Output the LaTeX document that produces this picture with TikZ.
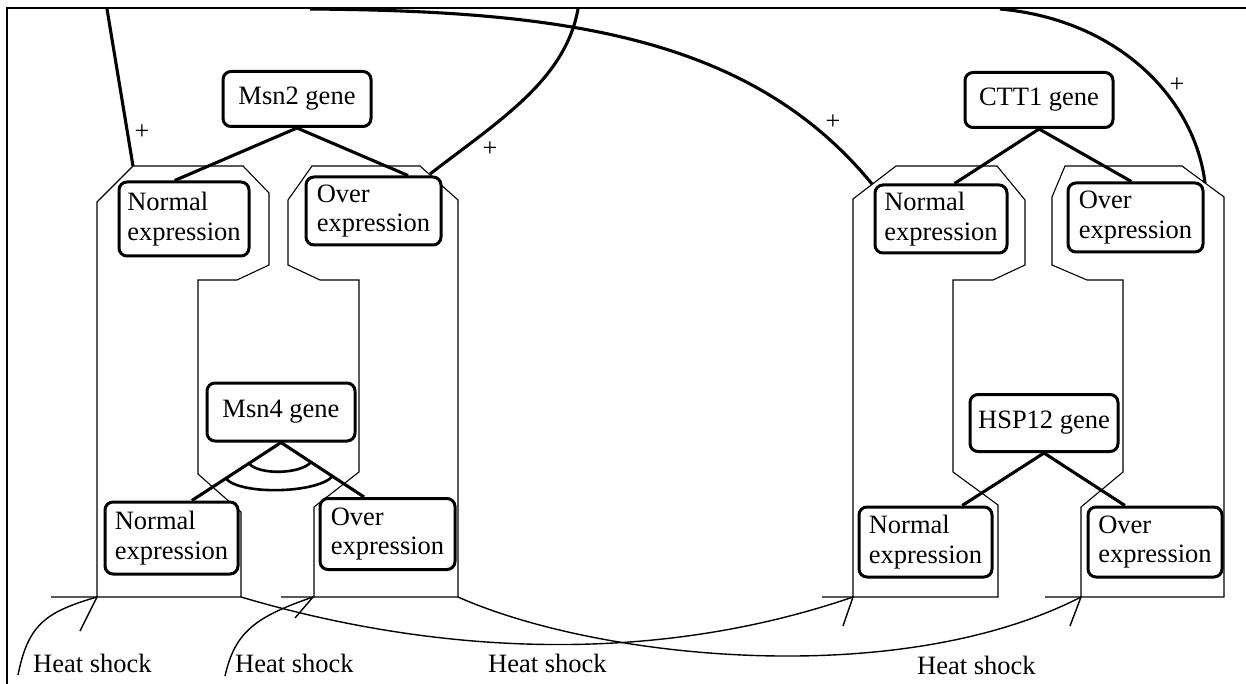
\documentclass[tikz,border=0pt]{standalone}
\usepackage{fontspec}
\setmainfont{Liberation Serif}
\usetikzlibrary{calc}
\newcommand\diagfont{\fontsize{26.5}{29.5}\selectfont}
\begin{document}
\begin{tikzpicture}[x=1pt,y=-1pt,
  txt/.style={font=\diagfont,inner sep=0pt},
  gene/.style={draw,fill=white,line width=3pt,rounded corners=8pt,minimum width=148pt,minimum height=55pt,inner sep=0pt,font=\diagfont},
  expr/.style={draw,fill=white,line width=3pt,rounded corners=8pt,align=left,inner sep=0pt,font=\diagfont},
  env/.style={line width=1.1pt},
  link/.style={line width=3.1pt},
  hs/.style={line width=1.4pt},
  plus/.style={font=\fontsize{26}{26}\selectfont,inner sep=0pt}]
\useasboundingbox (0,0) rectangle (1246,684);
\fill[white] (0,0) rectangle (1246,684);
% frame
\draw[line width=2.4pt] (7,684) -- (7,8) -- (1246,8);
% envelopes
\draw[env] (51,597) -- (241,597) -- (241,512) -- (198,474) -- (198,280) -- (237,280) -- (269,265) -- (269,193) -- (243,166) -- (133,166) -- (97,202) -- (97,597);
\draw[env] (281,597) -- (458,597) -- (458,200) -- (420,166) -- (312,166) -- (288,200) -- (288,265) -- (320,280) -- (359,280) -- (359,472) -- (314,507) -- (314,597);
\draw[env] (822,597) -- (998,597) -- (998,505) -- (953,472) -- (953,280) -- (993,280) -- (1025,265) -- (1025,200) -- (997,166) -- (896,166) -- (853,199) -- (853,597);
\draw[env] (1045,597) -- (1224,597) -- (1224,197) -- (1182,166) -- (1065,166) -- (1052,197) -- (1052,265) -- (1087,280) -- (1123,280) -- (1123,472) -- (1081,507) -- (1081,597);
% gene boxes
\node[gene] (msn2) at (297,99) {Msn2 gene};
\node[gene] (ctt1) at (1039,100) {CTT1 gene};
\node[gene,minimum height=58pt] (msn4) at (281,412) {Msn4 gene};
\node[gene,minimum height=57pt] (hsp12) at (1044,423) {HSP12 gene};
% expression boxes
\node[expr,minimum width=130pt,minimum height=74pt] (nU1) at (184,219) {Normal\\expression};
\node[expr,minimum width=135pt,minimum height=68pt] (oU1) at (373.5,211) {Over\\expression};
\node[expr,minimum width=133pt,minimum height=72pt] (nL1) at (171.5,538) {Normal\\expression};
\node[expr,minimum width=135pt,minimum height=71pt] (oL1) at (387.5,534) {Over\\expression};
\node[expr,minimum width=132pt,minimum height=68pt] (nU2) at (941,219) {Normal\\expression};
\node[expr,minimum width=135pt,minimum height=69pt] (oU2) at (1135.5,217.5) {Over\\expression};
\node[expr,minimum width=133pt,minimum height=70pt] (nL2) at (925.5,542) {Normal\\expression};
\node[expr,minimum width=134pt,minimum height=70pt] (oL2) at (1155,542) {Over\\expression};
% gene -> expression links
\draw[link] ($(nU1.north west)!0.43!(nU1.north east)$) -- (msn2.south) -- ($(oU1.north west)!0.75!(oU1.north east)$);
\draw[link] ($(nU2.north west)!0.6!(nU2.north east)$) -- (ctt1.south) -- ($(oU2.north west)!0.47!(oU2.north east)$);
\coordinate (m4a) at (msn4.south);
\coordinate (m4l) at ($(nL1.north west)!0.65!(nL1.north east)$);
\coordinate (m4r) at ($(oL1.north west)!0.33!(oL1.north east)$);
\draw[link] (m4l) -- (m4a) -- (m4r);
\draw[link,line width=2.6pt] ($(m4a)!0.36!(m4l)$) .. controls +(10,12) and +(-10,12) .. ($(m4a)!0.36!(m4r)$);
\draw[link,line width=2.6pt] ($(m4a)!0.62!(m4l)$) .. controls +(15,17) and +(-15,17) .. ($(m4a)!0.62!(m4r)$);
\draw[link] ($(nL2.north west)!0.77!(nL2.north east)$) -- (hsp12.south) -- ($(oL2.north west)!0.28!(oL2.north east)$);
% long positive links
\coordinate (t1a) at (133,166); \coordinate (t1b) at (107,9);
\coordinate (t2a) at (430,174); \coordinate (t2b) at (578,9);
\coordinate (t3a) at (310,9);   \coordinate (t3b) at (872,184);
\coordinate (t4a) at (1000,9);  \coordinate (t4b) at (1205,183);
\draw[link] (t1a) -- (t1b);
\draw[link] (t2a) .. controls (500,120) and (565,80) .. (t2b);
\draw[link] (t3a) .. controls (560,11) and (750,35) .. (t3b);
\draw[link] (t4b) .. controls (1195,100) and (1120,20) .. (t4a);
\node[plus] (p1) at (142,132) {+};
\node[plus] (p2) at (490,149) {+};
\node[plus] (p3) at (833,122) {+};
\node[plus] (p4) at (1177,85) {+};
% heat shock
\node[txt,anchor=base west] (hs1) at (33,672) {Heat shock};
\node[txt,anchor=base west] (hs2) at (235,672) {Heat shock};
\node[txt,anchor=base west] (hs3) at (488,672) {Heat shock};
\node[txt,anchor=base west] (hs4) at (917,674) {Heat shock};
\coordinate (h1a) at (18,675);  \coordinate (h1b) at (97,597);  \coordinate (h1t) at (80,631);
\coordinate (h2a) at (225,676); \coordinate (h2b) at (313,597); \coordinate (h2t) at (295,618);
\coordinate (h3a) at (241,597); \coordinate (h3b) at (853,597); \coordinate (h3t) at (843,626);
\coordinate (h4a) at (458,597); \coordinate (h4b) at (1081,597); \coordinate (h4t) at (1070,626);
\draw[hs] (h1a) .. controls (28,625) and (45,612) .. (h1b);
\draw[hs] (h1t) -- (h1b);
\draw[hs] (h2a) .. controls (235,632) and (255,617) .. (h2b);
\draw[hs] (h2t) -- (h2b);
\draw[hs] (h3a) .. controls (420,650) and (640,670) .. (h3b);
\draw[hs] (h3t) -- (h3b);
\draw[hs] (h4a) .. controls (600,660) and (900,690) .. (h4b);
\draw[hs] (h4t) -- (h4b);
\end{tikzpicture}
\end{document}
